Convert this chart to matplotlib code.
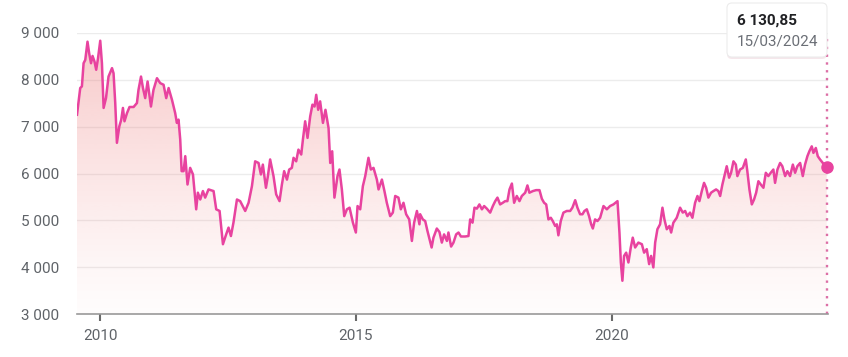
import numpy as np
import pandas as pd
import matplotlib
matplotlib.use("Agg")
import matplotlib.pyplot as plt
import matplotlib.dates as mdates
from matplotlib.colors import to_rgb
from matplotlib.patches import FancyBboxPatch
from matplotlib.transforms import IdentityTransform
from matplotlib.ticker import FuncFormatter

plt.rcParams.update({'font.family': ['Roboto', 'DejaVu Sans'], 'font.size': 11})

# index close (about one point per week of screen)
dates = [
    "2009-07-19", "2009-08-11", "2009-08-23", "2009-09-04", "2009-09-16", "2009-10-02",
    "2009-10-14", "2009-10-27", "2009-11-07", "2009-11-21", "2009-12-03", "2009-12-16",
    "2010-01-01", "2010-01-13", "2010-01-25", "2010-02-11", "2010-03-01", "2010-03-26",
    "2010-04-06", "2010-04-18", "2010-04-30", "2010-05-17", "2010-05-31", "2010-06-12",
    "2010-06-23", "2010-07-11", "2010-07-29", "2010-08-27", "2010-09-20", "2010-10-01",
    "2010-10-19", "2010-11-02", "2010-11-18", "2010-12-05", "2010-12-29", "2011-01-16",
    "2011-02-10", "2011-03-05", "2011-03-29", "2011-04-17", "2011-05-04", "2011-05-28",
    "2011-06-20", "2011-07-02", "2011-07-14", "2011-07-26", "2011-08-05", "2011-08-19",
    "2011-08-31", "2011-09-16", "2011-10-05", "2011-10-25", "2011-11-17", "2011-11-29",
    "2011-12-16", "2012-01-04", "2012-01-20", "2012-02-13", "2012-03-20", "2012-04-08",
    "2012-05-02", "2012-05-26", "2012-06-18", "2012-07-05", "2012-07-22", "2012-08-09",
    "2012-09-03", "2012-09-26", "2012-11-01", "2012-11-25", "2012-12-19", "2013-01-11",
    "2013-02-04", "2013-02-21", "2013-03-07", "2013-03-29", "2013-04-12", "2013-04-28",
    "2013-05-22", "2013-06-10", "2013-07-04", "2013-07-21", "2013-08-06", "2013-08-26",
    "2013-09-11", "2013-09-30", "2013-10-12", "2013-10-31", "2013-11-16", "2013-12-06",
    "2013-12-18", "2014-01-03", "2014-01-20", "2014-02-08", "2014-02-24", "2014-03-11",
    "2014-03-23", "2014-04-06", "2014-04-20", "2014-05-10", "2014-05-28", "2014-06-19",
    "2014-07-01", "2014-07-15", "2014-07-31", "2014-08-22", "2014-09-05", "2014-09-22",
    "2014-10-09", "2014-10-28", "2014-11-16", "2014-12-10", "2014-12-31", "2015-01-12",
    "2015-01-31", "2015-02-19", "2015-03-08", "2015-03-31", "2015-04-17", "2015-05-06",
    "2015-05-30", "2015-06-11", "2015-07-05", "2015-07-23", "2015-08-09", "2015-09-02",
    "2015-09-21", "2015-10-08", "2015-10-31", "2015-11-17", "2015-12-06", "2015-12-25",
    "2016-01-16", "2016-02-04", "2016-02-20", "2016-03-11", "2016-03-29", "2016-04-03",
    "2016-04-22", "2016-05-09", "2016-05-25", "2016-06-24", "2016-07-07", "2016-07-31",
    "2016-08-19", "2016-09-05", "2016-09-21", "2016-10-11", "2016-10-22", "2016-11-10",
    "2016-11-27", "2016-12-16", "2017-01-02", "2017-01-19", "2017-02-18", "2017-03-14",
    "2017-03-26", "2017-04-12", "2017-04-26", "2017-05-13", "2017-05-31", "2017-06-18",
    "2017-07-04", "2017-07-23", "2017-08-16", "2017-09-04", "2017-09-21", "2017-10-07",
    "2017-10-26", "2017-11-14", "2017-12-01", "2017-12-17", "2018-01-01", "2018-01-18",
    "2018-02-03", "2018-02-22", "2018-03-13", "2018-03-30", "2018-04-23", "2018-05-09",
    "2018-05-23", "2018-06-17", "2018-07-10", "2018-08-03", "2018-08-20", "2018-09-05",
    "2018-09-20", "2018-10-06", "2018-10-23", "2018-11-06", "2018-11-23", "2018-12-05",
    "2018-12-16", "2019-01-02", "2019-01-21", "2019-02-14", "2019-03-10", "2019-03-26",
    "2019-04-15", "2019-05-01", "2019-05-20", "2019-06-06", "2019-06-20", "2019-07-07",
    "2019-07-23", "2019-08-07", "2019-08-19", "2019-09-04", "2019-09-21", "2019-10-10",
    "2019-11-03", "2019-11-27", "2019-12-20", "2020-01-13", "2020-02-11", "2020-02-25",
    "2020-03-06", "2020-03-17", "2020-03-29", "2020-04-13", "2020-04-29", "2020-05-16",
    "2020-05-30", "2020-06-16", "2020-07-09", "2020-08-03", "2020-08-19", "2020-09-07",
    "2020-09-24", "2020-10-08", "2020-10-24", "2020-11-06", "2020-11-22", "2020-12-11",
    "2020-12-28", "2021-01-11", "2021-01-28", "2021-02-16", "2021-02-28", "2021-03-16",
    "2021-04-09", "2021-05-03", "2021-05-22", "2021-06-08", "2021-06-24", "2021-07-13",
    "2021-07-30", "2021-08-18", "2021-09-04", "2021-09-18", "2021-10-05", "2021-10-21",
    "2021-11-05", "2021-11-21", "2021-12-10", "2021-12-27", "2022-01-15", "2022-01-31",
    "2022-02-13", "2022-03-01", "2022-03-15", "2022-04-01", "2022-04-18", "2022-05-02",
    "2022-05-19", "2022-06-05", "2022-06-16", "2022-07-05", "2022-07-25", "2022-08-15",
    "2022-08-26", "2022-09-10", "2022-09-27", "2022-10-13", "2022-10-28", "2022-11-13",
    "2022-11-30", "2022-12-19", "2023-01-05", "2023-01-23", "2023-02-09", "2023-02-28",
    "2023-03-12", "2023-03-29", "2023-04-17", "2023-05-03", "2023-05-23", "2023-06-08",
    "2023-06-27", "2023-07-17", "2023-08-02", "2023-08-18", "2023-09-07", "2023-09-26",
    "2023-10-12", "2023-10-29", "2023-11-12", "2023-11-29", "2023-12-11", "2023-12-28",
    "2024-01-11", "2024-01-27", "2024-02-16", "2024-03-15",
]
close = [
    7255, 7825, 7860, 8355, 8425, 8815, 8565, 8355, 8510, 8390, 8215, 8460,
    8835, 8355, 7400, 7610, 8070, 8250, 8140, 7505, 6655, 7005, 7150, 7400,
    7115, 7290, 7420, 7420, 7505, 7785, 8070, 7825, 7610, 7965, 7430, 7785,
    8035, 7930, 7895, 7610, 7825, 7575, 7290, 7080, 7150, 6725, 6050, 6050,
    6370, 5765, 6120, 5980, 5235, 5590, 5445, 5625, 5485, 5660, 5625, 5235,
    5200, 4490, 4700, 4845, 4665, 4950, 5445, 5410, 5200, 5375, 5730, 6260,
    6225, 5980, 6190, 5695, 5945, 6300, 5945, 5555, 5410, 5765, 6050, 5870,
    6085, 6120, 6335, 6260, 6510, 6405, 6725, 7115, 6760, 7220, 7470, 7430,
    7680, 7360, 7540, 7080, 7360, 6970, 6225, 6475, 5485, 5945, 6085, 5660,
    5090, 5235, 5270, 4950, 4740, 5305, 5235, 5730, 5945, 6335, 6085, 6120,
    5870, 5660, 5870, 5625, 5375, 5090, 5165, 5520, 5485, 5235, 5375, 5130,
    5020, 4560, 4950, 5200, 4915, 5130, 5020, 4985, 4775, 4420, 4630, 4825,
    4750, 4525, 4700, 4560, 4740, 4440, 4525, 4700, 4740, 4655, 4655, 4665,
    5020, 4950, 5270, 5250, 5340, 5235, 5305, 5250, 5165, 5305, 5410, 5485,
    5340, 5375, 5410, 5410, 5660, 5785, 5375, 5520, 5410, 5520, 5590, 5745,
    5590, 5625, 5645, 5645, 5460, 5375, 5340, 5020, 5055, 4985, 4880, 4915,
    4680, 4985, 5165, 5200, 5200, 5270, 5430, 5270, 5130, 5130, 5200, 5235,
    5090, 4915, 4825, 5020, 4985, 5055, 5305, 5235, 5305, 5340, 5410, 4740,
    4100, 3710, 4240, 4310, 4100, 4420, 4630, 4420, 4525, 4490, 4310, 4385,
    4065, 4240, 3995, 4525, 4810, 4915, 5270, 5020, 4810, 4880, 4740, 4950,
    5055, 5270, 5165, 5200, 5090, 5165, 5055, 5375, 5520, 5410, 5625, 5800,
    5695, 5485, 5590, 5625, 5660, 5625, 5520, 5765, 5945, 6155, 5910, 6015,
    6260, 6190, 5945, 6085, 6120, 6300, 6050, 5660, 5340, 5445, 5590, 5835,
    5765, 5695, 6015, 5945, 6015, 6085, 5800, 6085, 6225, 6155, 5945, 6050,
    5945, 6190, 6015, 6155, 6225, 5945, 6190, 6370, 6475, 6580, 6440, 6545,
    6370, 6300, 6225, 6130.85,
]
last_label = "6 130,85"
last_date_label = "15/03/2024"
year_ticks = ["2010-01-01", "2015-01-01", "2020-01-01"]
year_labels = ["2010", "2015", "2020"]
y_ticks = [3000, 4000, 5000, 6000, 7000, 8000, 9000]

df = pd.DataFrame({"date": pd.to_datetime(dates), "close": close})
x = mdates.date2num(df["date"])

line_color = "#e8439f"

fig = plt.figure(figsize=(8.48, 3.57), dpi=100)
ax = fig.add_axes([77 / 848, 43 / 357, 751 / 848, 281 / 357])

x0 = x[0]
x1 = x[-1] + 9
ymin, ymax = y_ticks[0], y_ticks[-1]
ax.set_xlim(x0, x1)
ax.set_ylim(ymin, ymax)

# gradient area under the curve
grad = np.linspace(0, 1, 256).reshape(-1, 1)
rgba = np.zeros((256, 1, 4))
rgba[..., :3] = to_rgb("#ee7c7c")
rgba[..., 3] = 0.02 + 0.40 * grad[..., 0:1] ** 1.2
im = ax.imshow(rgba, aspect="auto", origin="lower",
               extent=[x0, x1, ymin, ymax], zorder=1, interpolation="bilinear")
area = ax.fill_between(x, df["close"], ymin, color="none", lw=0)
im.set_clip_path(area.get_paths()[0], transform=ax.transData)

ax.plot(x, df["close"], color=line_color, lw=1.8, zorder=3, solid_joinstyle="round")

# last point marker + dotted guide
ax.plot([x[-1], x[-1]], [ymin, 8890], color="#dc6fa6", lw=1.7,
        linestyle=(0, (1, 2.3)), zorder=2, clip_on=False)
ax.plot(x[-1], df["close"].iloc[-1], "o", ms=8, color=line_color,
        zorder=5, clip_on=False)

# axes styling
ax.set_yticks(y_ticks)
ax.yaxis.set_major_formatter(FuncFormatter(lambda v, p: f"{int(v):,}".replace(",", " ")))
ax.set_xticks(mdates.date2num(pd.to_datetime(year_ticks)))
ax.set_xticklabels(year_labels)
ax.grid(axis="y", color="#ececec", lw=1)
ax.set_axisbelow(True)
for s in ["top", "right", "left"]:
    ax.spines[s].set_visible(False)
ax.spines["bottom"].set_color("#9a9a9a")
ax.spines["bottom"].set_linewidth(1.2)
ax.spines["bottom"].set_zorder(4)
ax.tick_params(axis="y", length=0, pad=13, labelcolor="#5f6368", labelsize=11)
ax.tick_params(axis="x", length=5, width=1.5, color="#6a6a6a", pad=6,
               labelcolor="#5f6368", labelsize=11)

# tooltip
ident = IdentityTransform()
shadow = FancyBboxPatch((727, 298), 100, 55, boxstyle="round,pad=0,rounding_size=5",
                        transform=ident, facecolor="#b04060", alpha=0.12,
                        edgecolor="none", zorder=9)
box = FancyBboxPatch((727, 300), 100, 54, boxstyle="round,pad=0,rounding_size=5",
                     transform=ident, facecolor="white", edgecolor="#ececec",
                     lw=0.8, zorder=10)
fig.patches.extend([shadow, box])
fig.text(737 / 848, 1 - 21 / 357, last_label, fontsize=11, fontweight="bold",
         color="#202124", va="center", ha="left", zorder=11)
fig.text(737 / 848, 1 - 41 / 357, last_date_label, fontsize=11,
         color="#6b6f76", va="center", ha="left", zorder=11)

fig.savefig("out.png", dpi=100)
